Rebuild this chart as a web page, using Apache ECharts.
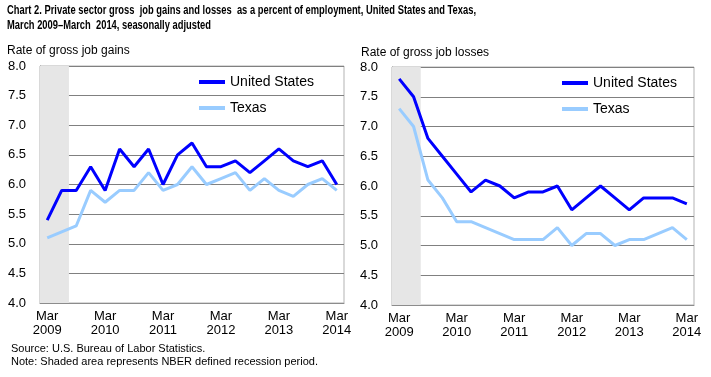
<!DOCTYPE html>
<html>
<head>
<meta charset="utf-8">
<script src="https://cdn.jsdelivr.net/npm/echarts@6/dist/echarts.min.js"></script>
<style>
  html, body { margin: 0; padding: 0; background: #fff; }
  #chart { width: 711px; height: 377px; }
</style>
</head>
<body>
<div id="chart"></div>
<script>
// quarters, Mar 2009 - Mar 2014
var quarters = ['Mar\n2009', 'Jun', 'Sep', 'Dec', 'Mar\n2010', 'Jun', 'Sep', 'Dec', 'Mar\n2011', 'Jun', 'Sep', 'Dec',
    'Mar\n2012', 'Jun', 'Sep', 'Dec', 'Mar\n2013', 'Jun', 'Sep', 'Dec', 'Mar\n2014'];
var yTicks = [4.0, 8.0, 0.5]; // min, max, step

var usGains = [5.4, 5.9, 5.9, 6.3, 5.9, 6.6, 6.3, 6.6, 6.0, 6.5, 6.7, 6.3, 6.3, 6.4, 6.2, 6.4, 6.6, 6.4, 6.3, 6.4, 6.0];
var txGains = [5.1, 5.2, 5.3, 5.9, 5.7, 5.9, 5.9, 6.2, 5.9, 6.0, 6.3, 6.0, 6.1, 6.2, 5.9, 6.1, 5.9, 5.8, 6.0, 6.1, 5.9];
var usLosses = [7.8, 7.5, 6.8, 6.5, 6.2, 5.9, 6.1, 6.0, 5.8, 5.9, 5.9, 6.0, 5.6, 5.8, 6.0, 5.8, 5.6, 5.8, 5.8, 5.8, 5.7];
var txLosses = [7.3, 7.0, 6.1, 5.8, 5.4, 5.4, 5.3, 5.2, 5.1, 5.1, 5.1, 5.3, 5.0, 5.2, 5.2, 5.0, 5.1, 5.1, 5.2, 5.3, 5.1];
// 1 = recession quarter (NBER)
var recession = [1, 1, 0, 0, 0, 0, 0, 0, 0, 0, 0, 0, 0, 0, 0, 0, 0, 0, 0, 0, 0];

var font = 'Arial, "Liberation Sans", sans-serif';

// first and last recession quarter index
var recIdx = [];
recession.forEach(function (r, i) { if (r) recIdx.push(i); });
var recSpan = [[recIdx[0], recIdx[recIdx.length - 1]]];

function xAxisFor(i) {
    return {
        type: 'category', gridIndex: i, data: quarters, boundaryGap: true,
        axisLine: { lineStyle: { color: '#8c8c8c' } },
        axisTick: { interval: 0, length: 4, lineStyle: { color: '#8c8c8c' } },
        axisLabel: {
            interval: 3, color: '#000', fontFamily: font, fontSize: 13, lineHeight: 14, margin: 6
        }
    };
}
function yAxisFor(i) {
    return {
        type: 'value', gridIndex: i, min: yTicks[0], max: yTicks[1], interval: yTicks[2],
        axisLine: { show: true, lineStyle: { color: '#8c8c8c' } },
        axisTick: { show: false },
        splitLine: { lineStyle: { color: '#808080', width: 1 } },
        axisLabel: {
            color: '#000', fontFamily: font, fontSize: 13, margin: 14,
            formatter: function (v) { return v.toFixed(1); }
        }
    };
}
function lineSeries(name, data, color, i) {
    return {
        name: name, type: 'line', xAxisIndex: i, yAxisIndex: i, data: data,
        symbol: 'none', lineStyle: { color: color, width: 3 }, itemStyle: { color: color }, z: 3
    };
}
// grey band covering the recession quarters (whole category bands)
function shadeSeries(i) {
    return {
        type: 'custom', xAxisIndex: i, yAxisIndex: i, data: recSpan, silent: true, z: 1,
        renderItem: function (params, api) {
            var w = api.size([1, 0])[0];
            var p0 = api.coord([api.value(0), yTicks[1]]);
            var p1 = api.coord([api.value(1), yTicks[0]]);
            return {
                type: 'rect',
                shape: { x: p0[0] - w / 2, y: p0[1], width: p1[0] - p0[0] + w, height: p1[1] - p0[1] },
                style: { fill: '#e6e6e6' }
            };
        }
    };
}
function legendFor(left, top) {
    return {
        data: ['United States', 'Texas'], orient: 'vertical', left: left, top: top, padding: 0,
        icon: 'rect', itemWidth: 26, itemHeight: 4, itemGap: 12,
        textStyle: { color: '#000', fontFamily: font, fontSize: 14 },
        selectedMode: false
    };
}

var chart = echarts.init(document.getElementById('chart'));
chart.setOption({
    animation: false,
    color: ['#0000ff', '#99ccff'],
    graphic: [{
        type: 'text', x: 7, y: 3, scaleX: 0.72, silent: true,
        style: {
            text: 'Chart 2. Private sector gross  job gains and losses  as a percent of employment, United States and Texas,\nMarch 2009\u2013March  2014, seasonally adjusted',
            font: 'bold 13px Arial, "Liberation Sans", sans-serif', lineHeight: 15, fill: '#000'
        }
    }],
    title: [
        { text: 'Rate of gross job gains', left: 7, top: 45, padding: 0, textStyle: { fontFamily: font, fontSize: 12, fontWeight: 'normal', color: '#000' } },
        { text: 'Rate of gross job losses', left: 361, top: 47, padding: 0, textStyle: { fontFamily: font, fontSize: 12, fontWeight: 'normal', color: '#000' } },
        {
            text: 'Source: U.S. Bureau of Labor Statistics.\nNote: Shaded area represents NBER defined recession period.',
            left: 11, top: 342, padding: 0,
            textStyle: { fontFamily: font, fontSize: 11, fontWeight: 'normal', lineHeight: 13, color: '#000' }
        }
    ],
    legend: [legendFor(199, 75), legendFor(562, 76)],
    grid: [
        { left: 40, right: 367, top: 66, height: 237, show: true, borderColor: '#b3b3b3', borderWidth: 1 },
        { left: 392, right: 17, top: 67, height: 238, show: true, borderColor: '#b3b3b3', borderWidth: 1 }
    ],
    xAxis: [xAxisFor(0), xAxisFor(1)],
    yAxis: [yAxisFor(0), yAxisFor(1)],
    series: [
        shadeSeries(0), shadeSeries(1),
        lineSeries('United States', usGains, '#0000ff', 0),
        lineSeries('Texas', txGains, '#99ccff', 0),
        lineSeries('United States', usLosses, '#0000ff', 1),
        lineSeries('Texas', txLosses, '#99ccff', 1)
    ]
});
</script>
</body>
</html>
